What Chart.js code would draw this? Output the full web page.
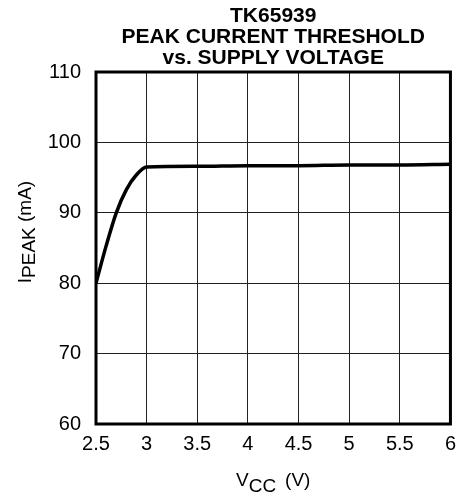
<!DOCTYPE html>
<html>
<head>
<meta charset="utf-8">
<script src="https://cdn.jsdelivr.net/npm/chart.js@4"></script>
<style>
  html, body { margin: 0; padding: 0; background: #fff; }
</style>
</head>
<body>
<canvas id="peakChart" width="464" height="496"></canvas>
<script>
// supply voltage (V) and peak current threshold (mA)
const vcc = [2.5, 2.6, 2.7, 2.8, 2.9, 3.0, 3.5, 4.0, 4.5, 5.0, 5.5, 6.0];
const ipeak = [80, 85.3, 90.0, 93.3, 95.4, 96.5, 96.6, 96.7, 96.7, 96.8, 96.8, 96.9];
const xTicks = [2.5, 3, 3.5, 4, 4.5, 5, 5.5, 6];
const yTicks = [60, 70, 80, 90, 100, 110];
const titleLines = ['TK65939', 'PEAK CURRENT THRESHOLD', 'vs. SUPPLY VOLTAGE'];

const FONT = "'Liberation Sans', Arial, Helvetica, sans-serif";

// frame + axis titles with subscripts
const framePlugin = {
  id: 'frame',
  afterDraw(chart) {
    const { ctx, chartArea: a } = chart;
    ctx.save();
    ctx.strokeStyle = '#000';
    ctx.lineWidth = 3;
    ctx.strokeRect(a.left, a.top, a.right - a.left, a.bottom - a.top);

    ctx.fillStyle = '#000';
    ctx.textBaseline = 'alphabetic';
    ctx.textAlign = 'left';
    ctx.font = '19px ' + FONT;

    // x title: V_CC (V)
    const w1 = ctx.measureText('V').width;
    const w2 = ctx.measureText('CC').width;
    const w3 = ctx.measureText('(V)').width;
    const gap = 9;
    let x = (a.left + a.right) / 2 - (w1 + w2 + gap + w3) / 2;
    const yb = 486;
    ctx.fillText('V', x, yb);
    ctx.fillText('CC', x + w1, yb + 6);
    ctx.fillText('(V)', x + w1 + w2 + gap, yb);

    // y title: I_PEAK (mA)
    ctx.translate(31, 232);
    ctx.rotate(-Math.PI / 2);
    const u1 = ctx.measureText('I').width;
    const u2 = ctx.measureText('PEAK').width;
    const u3 = ctx.measureText(' (mA)').width;
    let s = -(u1 + u2 + u3) / 2;
    ctx.fillText('I', s, 0);
    ctx.fillText('PEAK', s + u1, 4);
    ctx.fillText(' (mA)', s + u1 + u2, 0);
    ctx.restore();
  }
};

new Chart(document.getElementById('peakChart'), {
  type: 'line',
  data: {
    datasets: [{
      data: vcc.map((v, i) => ({ x: v, y: ipeak[i] })),
      borderColor: '#000',
      borderWidth: 3.5,
      pointRadius: 0,
      fill: false,
      cubicInterpolationMode: 'monotone'
    }]
  },
  options: {
    responsive: false,
    animation: false,
    layout: { padding: { left: 0, right: 8, top: 0, bottom: 0 } },
    plugins: {
      legend: { display: false },
      tooltip: { enabled: false },
      title: {
        display: true,
        fullSize: false,
        text: titleLines,
        color: '#000',
        font: { family: FONT, size: 21, weight: 'bold', lineHeight: 1.0 },
        padding: { top: 6, bottom: 3 }
      }
    },
    scales: {
      x: {
        type: 'linear',
        min: 2.5,
        max: 6,
        afterBuildTicks: (scale) => { scale.ticks = xTicks.map(v => ({ value: v })); },
        afterFit: (scale) => { scale.height = 72; },
        grid: { color: '#222', lineWidth: 1, drawTicks: false },
        border: { display: false },
        ticks: {
          color: '#000', padding: 8, font: { family: FONT, size: 20 },
          callback: (v) => String(v)
        }
      },
      y: {
        min: 60,
        max: 110,
        afterBuildTicks: (scale) => { scale.ticks = yTicks.map(v => ({ value: v })); },
        afterFit: (scale) => { scale.width = 96; },
        grid: { color: '#222', lineWidth: 1, drawTicks: false },
        border: { display: false },
        ticks: { color: '#000', padding: 15, font: { family: FONT, size: 20 } }
      }
    }
  },
  plugins: [framePlugin]
});
</script>
</body>
</html>
